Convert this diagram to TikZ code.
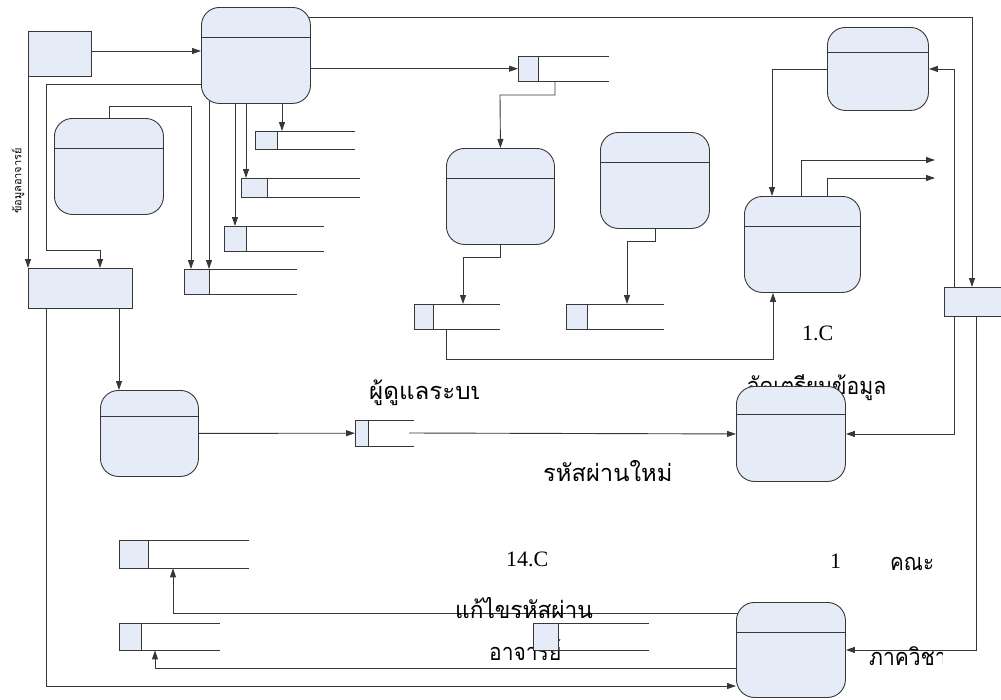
\documentclass[tikz,border=0pt]{standalone}
\usepackage{fontspec}
\usepackage{graphicx}
\setmainfont{Liberation Serif}
\newfontfamily\thaifont[Script=Thai]{Loma}
\usetikzlibrary{arrows.meta}
\definecolor{boxfill}{RGB}{230,236,247}
\definecolor{linec}{RGB}{55,55,55}
\pgfdeclarelayer{back}
\pgfsetlayers{back,main}
\newcommand{\mystore}[6]{%
  \node[slot, minimum width=#4pt, minimum height=#5pt] (#1) at (#2,#3) {};
  \draw[plain] (#1.north west) -- (#1.north east) (#1.south west) -- (#1.south east);
  \draw[idbox] (#1.north west) rectangle ([xshift=#6pt]#1.south west);
}
\newcommand{\hdr}[2]{%
  \draw[plain] ([yshift=-#2pt]#1.north west) -- ([yshift=-#2pt]#1.north east);
}
\newcommand{\thtxt}[2]{\scalebox{#1}[1.12]{#2}}
\begin{document}
\begin{tikzpicture}[x=1pt,y=-1pt,
  proc/.style={draw=linec, fill=boxfill, line width=0.9pt, rounded corners=18pt, anchor=north west, inner sep=0pt},
  ext/.style={draw=linec, fill=boxfill, line width=0.9pt, anchor=north west, inner sep=0pt},
  slot/.style={anchor=north west, inner sep=0pt},
  idbox/.style={draw=linec, fill=boxfill, line width=0.9pt},
  plain/.style={draw=linec, line width=0.9pt},
  flow/.style={draw=linec, line width=0.9pt, -{Triangle[length=9pt,width=6pt]}},
  thai/.style={font=\thaifont\fontsize{21}{24}\selectfont, inner sep=0pt, anchor=base west},
  num/.style={font=\fontsize{22}{24}\selectfont, inner sep=0pt, anchor=base west}]
\useasboundingbox (0,0) rectangle (1001,699);

% texts (behind boxes)
\begin{scope}
  \clip (360,360) rectangle (478,420);
  \node[thai] (t1) at (369,399) {\thtxt{1.15}{ผู้ดูแลระบบ}};
\end{scope}
\node[thai] (t2) at (747,394) {\thtxt{1.01}{จัดเตรียมข้อมูล}};
\node[thai] (t3) at (543,481) {\thtxt{1.13}{รหัสผ่านใหม่}};
\node[thai] (t4) at (455,618) {\thtxt{1.08}{แก้ไขรหัสผ่าน}};
\node[thai] (t5) at (489,660) {\thtxt{1.0}{อาจารย์}};
\node[thai] (t6) at (890,570) {\thtxt{0.98}{คณะ}};
\begin{scope}
  \clip (860,630) rectangle (942,690);
  \node[thai] (t7) at (869,665) {\thtxt{1.0}{ภาควิชา}};
\end{scope}
\node[num] (n1) at (802,340) {1.C};
\node[num] (n2) at (506,566) {14.C};
\node[num] (n3) at (830,568) {1};
\node[num] (n4) at (808,662) {2};
\node[font=\thaifont\fontsize{11}{12}\selectfont, inner sep=0pt, rotate=90] (vt) at (18,181) {ข้อมูลอาจารย์};

% processes
\node[proc, minimum width=109pt, minimum height=96pt] (P1) at (201,7) {};   \hdr{P1}{30}
\node[proc, minimum width=109pt, minimum height=96pt] (P2) at (54,118) {};  \hdr{P2}{30}
\node[proc, minimum width=108pt, minimum height=96pt] (P3) at (446,148) {}; \hdr{P3}{30}
\node[proc, minimum width=109pt, minimum height=96pt] (P4) at (600,132) {}; \hdr{P4}{30}
\node[proc, minimum width=116pt, minimum height=96pt] (P5) at (744,196) {}; \hdr{P5}{30}
\node[proc, minimum width=101pt, minimum height=83pt] (P6) at (827,27) {};  \hdr{P6}{25}
\node[proc, minimum width=109pt, minimum height=95pt] (P7) at (736,386) {}; \hdr{P7}{28}
\node[proc, minimum width=109pt, minimum height=95pt] (P8) at (736,602) {}; \hdr{P8}{30}
\node[proc, minimum width=98pt, minimum height=86pt] (P9) at (100,390) {};  \hdr{P9}{26}

% external entities
\node[ext, minimum width=63pt, minimum height=45pt] (E1) at (28,31) {};
\node[ext, minimum width=104pt, minimum height=40pt] (E2) at (28,268) {};
\node[ext, minimum width=70pt, minimum height=29pt] (SR) at (944,287) {};

% data stores
\mystore{S1}{255}{131}{100}{18}{22}
\mystore{S2}{241}{178}{119}{19}{26}
\mystore{S3}{224}{226}{100}{25}{22}
\mystore{S4}{184}{269}{113}{25}{25}
\mystore{S5}{518}{56}{91}{25}{20}
\mystore{S6}{414}{304}{86}{25}{19}
\mystore{S7}{566}{304}{98}{25}{21}
\mystore{S8}{355}{420}{59}{26}{13}
\mystore{S9}{119}{540}{130}{28}{29}
\mystore{S10}{119}{623}{101}{27}{22}
\mystore{S11}{533}{623}{116}{27}{25}

\coordinate (o1) at (935,160);
\coordinate (o2) at (935,178);
\coordinate (c8) at (409,433);

% connectors
\begin{pgfonlayer}{back}
\draw[flow] (E1.center |- 0,51) -- (P1.west |- 0,51);
\draw[flow] (E1.south west) -- (E2.north west);
\draw[flow] (P1.center |- 0,84) -- (46,84) -- (46,250) -- (100,250) -- (100,0 |- E2.north);
\draw[flow] (P2.center) |- (191,106) -- (191,0 |- S4.north);
\draw[flow] (209,0 |- P1.center) -- (209,0 |- S4.north);
\draw[flow] (235,0 |- P1.center) -- (235,0 |- S3.north);
\draw[flow] (246,0 |- P1.center) -- (246,0 |- S2.north);
\draw[flow] (282,0 |- P1.center) -- (282,0 |- S1.north);
\draw[flow] (P1.center |- 0,17) -- (972,17) -- (972,0 |- SR.north);
\draw[flow] (P1.center |- S5.west) -- (S5.west);
\draw[flow] (555,0 |- S5.south) |- (500,95) -- (P3.north);
\draw[flow] (P3.center) |- (463,257) -- (463,0 |- S6.north);
\draw[flow] (446,0 |- S6.south) |- (773,359) -- (773,0 |- P5.south);
\draw[flow] (P4.center) |- (627,241) -- (627,0 |- S7.north);
\draw[flow] (P6.center) -| (772,0 |- P5.north);
\draw[flow] (801,0 |- P5.center) |- (o1);
\draw[flow] (827,0 |- P5.center) |- (o2);
\draw[flow] (954,0 |- SR.center) |- (P6.east);
\draw[flow] (954,0 |- SR.center) |- (P7.east);
\draw[flow] (976,0 |- SR.center) |- (P8.east);
\draw[flow] (119,0 |- E2.center) -- (119,0 |- P9.north);
\draw[flow] (46,0 |- E2.center) |- (P8.west |- 0,686);
\draw[flow] (P9.center) -- (S8.west);
\draw[flow] (c8) -- (P7.west);
\draw[flow] (P8.center |- 0,613) -| (173,0 |- S9.south);
\draw[flow] (P8.center |- 0,668) -| (155,0 |- S10.south);
\end{pgfonlayer}
\end{tikzpicture}
\end{document}
